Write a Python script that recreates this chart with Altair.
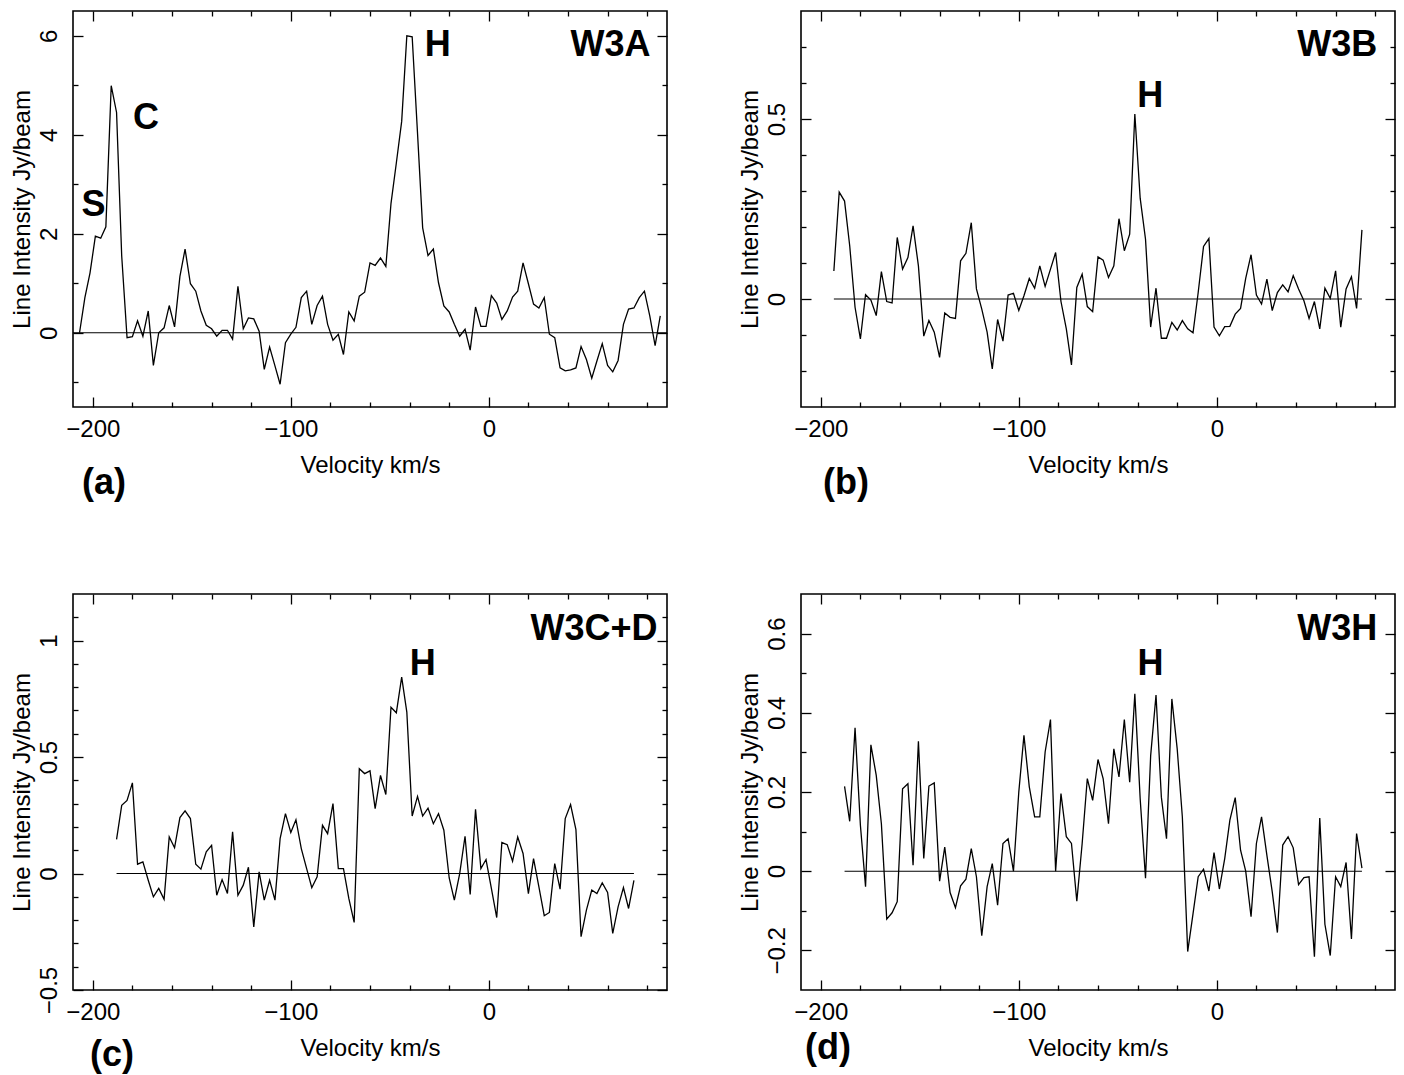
import altair as alt
import pandas as pd

# Channel velocities (km/s)
VEL = [-206.7, -204.0, -201.4, -198.7, -196.0, -193.4, -190.7, -188.0, -185.4,
       -182.7, -180.0, -177.4, -174.7, -172.0, -169.4, -166.7, -164.0, -161.4,
       -158.7, -156.0, -153.4, -150.7, -148.0, -145.4, -142.7, -140.0, -137.4,
       -134.7, -132.0, -129.4, -126.7, -124.0, -121.4, -118.7, -116.0, -113.4,
       -110.7, -108.0, -105.4, -102.7, -100.0, -97.4, -94.7, -92.0, -89.4,
       -86.7, -84.0, -81.4, -78.7, -76.0, -73.4, -70.7, -68.0, -65.4,
       -62.7, -60.0, -57.4, -54.7, -52.0, -49.4, -46.7, -44.0, -41.4,
       -38.7, -36.0, -33.4, -30.7, -28.0, -25.4, -22.7, -20.0, -17.4,
       -14.7, -12.0, -9.4, -6.7, -4.0, -1.4, 1.3, 4.0, 6.6,
       9.3, 12.0, 14.6, 17.3, 20.0, 22.6, 25.3, 28.0, 30.6,
       33.3, 36.0, 38.6, 41.3, 44.0, 46.6, 49.3, 52.0, 54.6,
       57.3, 60.0, 62.6, 65.3, 68.0, 70.6, 73.3, 76.0, 78.6,
       81.3, 84.0, 86.6]

VEL_A = VEL            # W3A: all 111 channels
VEL_B = VEL[5:106]     # W3B: -193.4 .. 73.3
VEL_C = VEL[7:106]     # W3C+D: -188.0 .. 73.3
VEL_D = VEL[7:106]     # W3H: -188.0 .. 73.3

W3A = [0.00, 0.71, 1.21, 1.95, 1.91, 2.14, 4.99, 4.45, 1.55, -0.10,
       -0.08, 0.24, -0.07, 0.44, -0.66, 0.00, 0.10, 0.55, 0.12, 1.14,
       1.69, 0.99, 0.84, 0.44, 0.15, 0.08, -0.07, 0.05, 0.05, -0.13,
       0.94, 0.08, 0.30, 0.28, 0.03, -0.74, -0.29, -0.67, -1.04, -0.20,
       -0.03, 0.11, 0.71, 0.84, 0.17, 0.55, 0.74, 0.17, -0.15, -0.03,
       -0.44, 0.42, 0.24, 0.74, 0.82, 1.41, 1.36, 1.51, 1.34, 2.61,
       3.43, 4.27, 6.00, 5.98, 4.03, 2.12, 1.56, 1.69, 1.01, 0.54,
       0.42, 0.17, -0.07, 0.07, -0.35, 0.52, 0.13, 0.13, 0.75, 0.60,
       0.27, 0.44, 0.72, 0.84, 1.41, 0.99, 0.58, 0.50, 0.71, -0.03,
       -0.10, -0.71, -0.77, -0.75, -0.71, -0.28, -0.54, -0.92, -0.57, -0.22,
       -0.66, -0.79, -0.56, 0.17, 0.48, 0.50, 0.71, 0.84, 0.34, -0.26, 0.34]

W3B = [0.078, 0.297, 0.272, 0.148, -0.023, -0.111, 0.012, -0.003, -0.046, 0.076,
       -0.007, -0.011, 0.171, 0.083, 0.115, 0.203, 0.092, -0.103, -0.060, -0.092,
       -0.162, -0.039, -0.051, -0.054, 0.106, 0.127, 0.212, 0.028, -0.028, -0.092,
       -0.194, -0.057, -0.117, 0.011, 0.016, -0.032, 0.009, 0.057, 0.030, 0.092,
       0.035, 0.083, 0.129, -0.007, -0.083, -0.183, 0.032, 0.069, -0.021, -0.035,
       0.117, 0.108, 0.060, 0.092, 0.223, 0.134, 0.180, 0.514, 0.280, 0.166,
       -0.078, 0.030, -0.109, -0.109, -0.065, -0.086, -0.060, -0.083, -0.094, 0.018,
       0.146, 0.168, -0.078, -0.102, -0.077, -0.076, -0.042, -0.026, 0.057, 0.123,
       0.011, -0.014, 0.055, -0.032, 0.018, 0.039, 0.020, 0.065, 0.028, -0.005,
       -0.054, -0.007, -0.083, 0.030, 0.002, 0.078, -0.078, 0.028, 0.062, -0.026,
       0.192]

W3CD = [0.147, 0.293, 0.314, 0.389, 0.040, 0.050, -0.029, -0.100, -0.064, -0.111,
        0.157, 0.111, 0.240, 0.269, 0.236, 0.040, 0.019, 0.093, 0.121, -0.093,
        -0.026, -0.086, 0.179, -0.093, -0.050, 0.027, -0.229, 0.007, -0.114, -0.029,
        -0.114, 0.150, 0.257, 0.176, 0.231, 0.107, 0.021, -0.061, -0.014, 0.207,
        0.171, 0.300, 0.021, 0.021, -0.107, -0.210, 0.450, 0.429, 0.441, 0.279,
        0.421, 0.339, 0.714, 0.690, 0.843, 0.693, 0.247, 0.331, 0.247, 0.281,
        0.214, 0.257, 0.186, -0.019, -0.114, 0.000, 0.160, -0.090, 0.276, 0.021,
        0.060, -0.064, -0.189, 0.133, 0.124, 0.053, 0.157, 0.086, -0.086, 0.064,
        -0.057, -0.181, -0.167, 0.043, -0.067, 0.236, 0.296, 0.189, -0.271, -0.157,
        -0.071, -0.086, -0.040, -0.081, -0.257, -0.143, -0.060, -0.150, -0.029]

W3H = [0.214, 0.126, 0.362, 0.116, -0.039, 0.319, 0.242, 0.120, -0.121, -0.105,
       -0.077, 0.208, 0.221, 0.015, 0.328, 0.032, 0.215, 0.223, -0.025, 0.061,
       -0.054, -0.092, -0.037, -0.020, 0.057, -0.014, -0.163, -0.039, 0.019, -0.086,
       0.070, 0.082, 0.000, 0.200, 0.343, 0.213, 0.137, 0.137, 0.301, 0.383,
       0.000, 0.196, 0.087, 0.070, -0.076, 0.070, 0.234, 0.179, 0.282, 0.234,
       0.120, 0.309, 0.238, 0.383, 0.225, 0.448, 0.183, -0.018, 0.292, 0.445,
       0.187, 0.082, 0.435, 0.309, 0.137, -0.203, -0.107, -0.014, 0.005, -0.050,
       0.047, -0.045, 0.032, 0.129, 0.186, 0.053, 0.000, -0.115, 0.070, 0.137,
       0.040, -0.052, -0.155, 0.066, 0.087, 0.059, -0.034, -0.016, -0.014, -0.216,
       0.134, -0.134, -0.213, -0.014, -0.039, 0.022, -0.171, 0.095, 0.008]

X_DOMAIN = [-210, 90]
X_MAJOR = [-200, -100, 0]
X_MINOR = [-180, -160, -140, -120, -80, -60, -40, -20, 20, 40, 60, 80]

FONT = "Liberation Sans"
W, H = 594, 396

PANELS = [
    dict(vel=VEL_A, val=W3A, ydom=[-1.5, 6.5], ymaj=[0, 2, 4, 6], ymin=[-1, 1, 3, 5],
         base=[-210, 90],
         peaks_t=["S", "C", "H"], peaks_v=[-199.6, -173.1, -25.8], peaks_f=[2.59, 4.33, 5.82],
         src="W3A", src_v=81.7, src_f=5.82, tag="(a)", tdx=9, toff=-11),
    dict(vel=VEL_B, val=W3B, ydom=[-0.3, 0.8], ymaj=[0, 0.5],
         ymin=[-0.2, -0.1, 0.1, 0.2, 0.3, 0.4, 0.6, 0.7],
         base=[VEL_B[0], VEL_B[-1]],
         peaks_t=["H"], peaks_v=[-33.6], peaks_f=[0.563],
         src="W3B", src_v=81.0, src_f=0.706, tag="(b)", tdx=22, toff=-11),
    dict(vel=VEL_C, val=W3CD, ydom=[-0.5, 1.2], ymaj=[-0.5, 0, 0.5, 1],
         ymin=[-0.4, -0.3, -0.2, -0.1, 0.1, 0.2, 0.3, 0.4, 0.6, 0.7, 0.8, 0.9, 1.1],
         base=[VEL_C[0], VEL_C[-1]],
         peaks_t=["H"], peaks_v=[-33.4], peaks_f=[0.90],
         src="W3C+D", src_v=85.2, src_f=1.05, tag="(c)", tdx=17, toff=-22),
    dict(vel=VEL_D, val=W3H, ydom=[-0.3, 0.7], ymaj=[-0.2, 0, 0.2, 0.4, 0.6],
         ymin=[-0.1, 0.1, 0.3, 0.5],
         base=[VEL_D[0], VEL_D[-1]],
         peaks_t=["H"], peaks_v=[-33.5], peaks_f=[0.523],
         src="W3H", src_v=81.0, src_f=0.611, tag="(d)", tdx=4, toff=-29),
]


def axis_x(orient, values, size, labels=False, title=None):
    kw = dict(orient=orient, values=values, tickSize=size, offset=-size,
              labels=labels, title=title, domain=False, grid=False,
              labelFlush=False, labelOverlap=False, format="~r")
    if labels:
        kw.update(labelPadding=10, titlePadding=12)
    return alt.Axis(**kw)


def axis_y(orient, values, size, labels=False, title=None):
    kw = dict(orient=orient, values=values, tickSize=size, offset=-size,
              labels=labels, title=title, domain=False, grid=False,
              labelFlush=False, labelOverlap=False, format="~r")
    if labels:
        kw.update(labelAngle=270, labelAlign="center", labelBaseline="alphabetic",
                  labelPadding=17, minExtent=40, maxExtent=40, titlePadding=9)
    return alt.Axis(**kw)


def make_panel(p):
    df = pd.DataFrame({"v": p["vel"], "f": p["val"]})
    xs = alt.Scale(domain=X_DOMAIN, nice=False, zero=False)
    ys = alt.Scale(domain=p["ydom"], nice=False, zero=False)

    line = alt.Chart(df).mark_line(color="black", strokeWidth=1.3).encode(
        x=alt.X("v:Q", scale=xs, axis=axis_x("bottom", X_MAJOR, 10, True, "Velocity km/s")),
        y=alt.Y("f:Q", scale=ys, axis=axis_y("left", p["ymaj"], 10, True, "Line Intensity Jy/beam")),
    )
    bdf = pd.DataFrame({"v": [p["base"][0]], "v2": [p["base"][1]], "f": [0]})
    base = alt.Chart(bdf).mark_rule(color="black", strokeWidth=1.1).encode(
        x=alt.X("v:Q", scale=xs, axis=axis_x("bottom", X_MINOR, 5)),
        x2="v2:Q",
        y=alt.Y("f:Q", scale=ys, axis=axis_y("left", p["ymin"], 5)),
    )
    inv1 = alt.Chart(df).mark_point(opacity=0).encode(
        x=alt.X("v:Q", scale=xs, axis=axis_x("top", X_MAJOR, 10)),
        y=alt.Y("f:Q", scale=ys, axis=axis_y("right", p["ymaj"], 10)),
    )
    inv2 = alt.Chart(df).mark_point(opacity=0).encode(
        x=alt.X("v:Q", scale=xs, axis=axis_x("top", X_MINOR, 5)),
        y=alt.Y("f:Q", scale=ys, axis=axis_y("right", p["ymin"], 5)),
    )
    pdf = pd.DataFrame({"v": p["peaks_v"], "f": p["peaks_f"], "t": p["peaks_t"]})
    peaks = alt.Chart(pdf).mark_text(font=FONT, fontSize=36, fontWeight="bold",
                                     align="center", baseline="middle", color="black").encode(
        x=alt.X("v:Q", scale=xs, axis=None),
        y=alt.Y("f:Q", scale=ys, axis=None),
        text="t:N",
    )
    sdf = pd.DataFrame({"v": [p["src_v"]], "f": [p["src_f"]], "t": [p["src"]]})
    src = alt.Chart(sdf).mark_text(font=FONT, fontSize=36, fontWeight="bold",
                                   align="right", baseline="middle", color="black").encode(
        x=alt.X("v:Q", scale=xs, axis=None),
        y=alt.Y("f:Q", scale=ys, axis=None),
        text="t:N",
    )
    return alt.layer(line, base, inv1, inv2, peaks, src).resolve_axis(
        x="independent", y="independent"
    ).properties(
        width=W, height=H,
        title=alt.TitleParams(text=p["tag"], orient="bottom", anchor="start", frame="group",
                              font=FONT, fontSize=36, fontWeight="bold", color="black",
                              dx=p["tdx"], offset=p["toff"]),
    )


panels = [make_panel(p) for p in PANELS]

chart = alt.concat(
    *panels, columns=2, spacing={"row": 187, "column": 134}, bounds="flush",
).properties(
    padding={"left": 9, "top": 9, "right": 5, "bottom": 0},
    background="white",
).configure_view(
    stroke="black", strokeWidth=1.6
).configure_axis(
    labelFont=FONT, labelFontSize=24, labelColor="black",
    titleFont=FONT, titleFontSize=24, titleFontWeight="normal", titleColor="black",
    tickColor="black", tickWidth=1.3,
)

chart.save("out.html", embed_options={"renderer": "svg", "actions": False})
